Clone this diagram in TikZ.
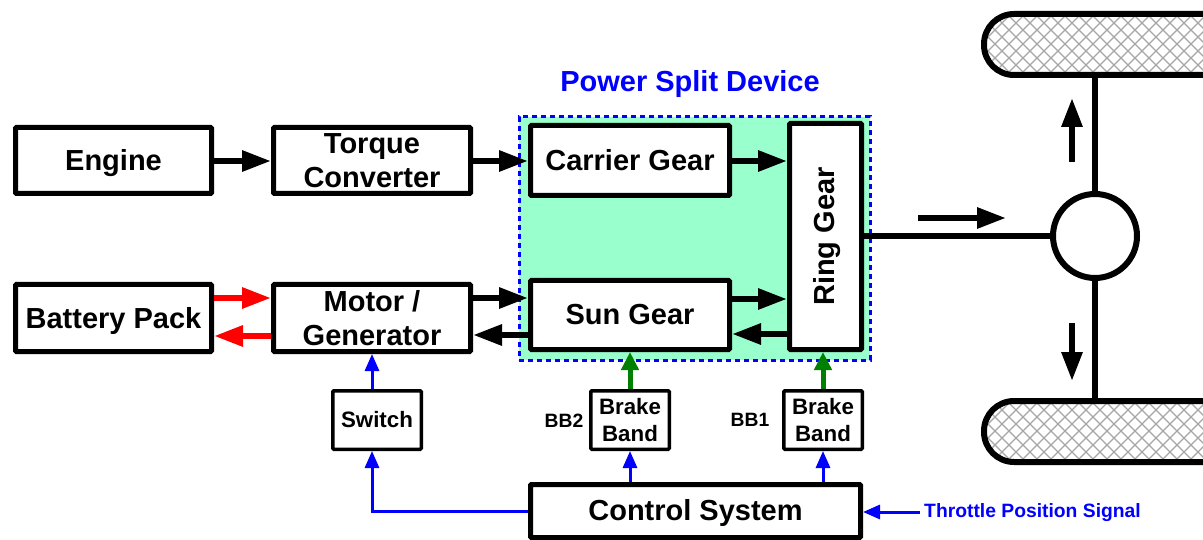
\documentclass[tikz,border=0pt]{standalone}
\usepackage{fontspec}
\setmainfont{Liberation Sans}
\usetikzlibrary{arrows.meta}
\definecolor{psd}{RGB}{153,255,204}
\definecolor{dgreen}{RGB}{0,128,0}
\tikzset{
 x=1pt,y=-1pt,
 bigbox/.style={draw=black,fill=white,line width=5pt,rounded corners=1pt,align=center,font=\fontsize{29}{34}\selectfont\bfseries,inner sep=0pt},
 smallbox/.style={draw=black,fill=white,line width=3.5pt,rounded corners=1pt,align=center,font=\fontsize{22.3}{27}\selectfont\bfseries,inner sep=0pt},
 blk/.style={line width=6pt,-{Triangle[length=29pt,width=20pt]},black},
 redarr/.style={line width=6pt,-{Triangle[length=29pt,width=20pt]},red},
 grn/.style={line width=5pt,-{Triangle[length=18pt,width=17pt]},dgreen},
 blu/.style={line width=3pt,-{Triangle[length=17pt,width=14pt]},blue},
 wheelpath/.style={rounded corners=30pt},
 wheel/.style={draw=black,line width=6pt,rounded corners=30pt},
 hatch/.style={gray!70,line width=1.1pt},
 shaft/.style={line width=6pt,black},
 lab/.style={font=\fontsize{19.3}{23}\selectfont\bfseries,inner sep=0pt},
}
% outer extents x1,x2,y1,y2
\newcommand{\bx}[6]{\node[bigbox,minimum width=#3-#2-5,minimum height=#5-#4-5,anchor=north west] (#1) at (#2,#4) {#6};}
\newcommand{\sbx}[6]{\node[smallbox,minimum width=#3-#2-3.5,minimum height=#5-#4-3.5,anchor=north west] (#1) at (#2,#4) {#6};}
\newcommand{\wheelshape}[1]{
 \begin{scope}
 \clip (0,0) rectangle (1203,540);
 \begin{scope}
 \clip[wheelpath] (984,#1) rectangle (1240,#1+61);
 \foreach \k in {-10,...,36}{
   \draw[hatch] (960+\k*14,#1-5) -- ++(80,80);
   \draw[hatch] (960+\k*14,#1-5) -- ++(-80,80);
 }
 \end{scope}
 \draw[wheel] (984,#1) rectangle (1240,#1+61);
 \end{scope}
}
\begin{document}
\begin{tikzpicture}
\useasboundingbox (0,0) rectangle (1203,540);
\wheelshape{14}
\wheelshape{401}
% power split region
\node[draw=blue,fill=psd,line width=3pt,dash pattern=on 5pt off 4pt,minimum width=351pt,minimum height=243pt,anchor=north west,inner sep=0pt] (psdbox) at (517.5,115.5) {};
\node[font=\fontsize{29}{34}\selectfont\bfseries,text=blue,inner sep=0pt] (psdlabel) at (690,84) {Power Split Device};
\bx{engine}{13}{214}{125}{196}{\rule{0pt}{27pt}Engine}
\bx{torque}{271}{473}{125}{196}{Torque\\Converter}
\bx{carrier}{528}{732}{123}{198}{Carrier Gear}
\bx{sun}{528}{732}{278}{352}{Sun Gear}
\node[bigbox,minimum width=72pt,minimum height=226pt,anchor=north west] (ring) at (787,121) {\hspace{3pt}\rotatebox{90}{Ring Gear}};
\bx{battery}{13}{214}{282}{354}{\rule{0pt}{27pt}Battery Pack}
\bx{motor}{271}{473}{282}{354}{Motor /\\Generator}
\sbx{switch}{331}{423}{389}{451}{Switch}
\sbx{bb2}{589}{671}{389}{451}{Brake\\Band}
\sbx{bb1}{782}{864}{389}{451}{Brake\\Band}
\bx{control}{528}{863}{482}{540}{\rule{0pt}{25pt}Control System}
\node[draw=black,fill=white,line width=6pt,circle,minimum size=84pt,inner sep=0pt] (diff) at (1095,236) {};
\coordinate (topw) at (1095,76);
\coordinate (botw) at (1095,401);
\draw[shaft] (diff) -- (topw);
\draw[shaft] (diff) -- (botw);
\draw[shaft] (ring.east |- diff) -- (diff);
% motion arrows
\coordinate (a1) at (1072,162); \coordinate (a2) at (1072,98);
\coordinate (b1) at (1072,323); \coordinate (b2) at (1072,381);
\coordinate (c1) at (918,218); \coordinate (c2) at (1006,218);
\draw[blk] (a1) -- (a2);
\draw[blk] (b1) -- (b2);
\draw[blk] (c1) -- (c2);
% power flow
\draw[blk] (engine.east |- 0,161) -- (torque.west |- 0,161);
\draw[blk] (torque.east |- 0,161) -- (carrier.west |- 0,161);
\draw[blk] (carrier.east |- 0,161) -- (ring.west |- 0,161);
\draw[blk] (sun.east |- 0,299) -- (ring.west |- 0,299);
\draw[blk] (ring.west |- 0,334) -- (sun.east |- 0,334);
\draw[blk] (motor.east |- 0,298) -- (sun.west |- 0,298);
\draw[blk] (sun.west |- 0,335) -- (motor.east |- 0,335);
\draw[redarr] (battery.east |- 0,298) -- (motor.west |- 0,298);
\draw[redarr] (motor.west |- 0,336) -- (battery.east |- 0,336);
% control
\draw[grn] (bb2.north) -- (sun.south);
\draw[grn] (bb1.north) -- (bb1.north |- ring.south);
\draw[blu] (switch.north -| 372,0) -- (372,0 |- motor.south);
\draw[blu] (control.west) -| (372,0 |- switch.south);
\draw[blu] (bb2.south |- control.north) -- (bb2.south);
\draw[blu] (bb1.south |- control.north) -- (bb1.south);
\coordinate (tps) at (920,512);
\draw[blu] (tps) -- (control.east |- tps);
\node[lab,text=blue,anchor=west] (tpslabel) at (924,513) {Throttle Position Signal};
\node[lab,anchor=center] (bb2l) at (564,421) {BB2};
\node[lab,anchor=center] (bb1l) at (750,420) {BB1};
\end{tikzpicture}
\end{document}
